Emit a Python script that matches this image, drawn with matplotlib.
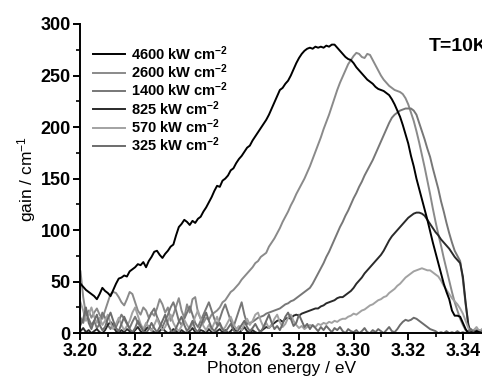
import matplotlib
matplotlib.use("Agg")
import matplotlib.pyplot as plt
import numpy as np
from matplotlib.ticker import MultipleLocator

plt.rcParams["font.family"] = ["Liberation Sans", "DejaVu Sans"]
plt.rcParams["mathtext.default"] = "regular"

# photon energy grid, 3.200 ... 3.347 eV in 1 meV steps
energy = np.linspace(3.200, 3.347, 148)

labels = ["4600 kW cm$^{-2}$", "2600 kW cm$^{-2}$", "1400 kW cm$^{-2}$",
          "825 kW cm$^{-2}$", "570 kW cm$^{-2}$", "325 kW cm$^{-2}$"]
colors = ["#000000", "#8a8a8a", "#777777", "#2a2a2a", "#a2a2a2", "#6c6c6c"]

gain_4600 = [
    48, 45, 42, 40, 38, 36, 33, 38, 44, 41,
    39, 36, 42, 48, 53, 54, 56, 55, 60, 62,
    64, 67, 66, 69, 64, 70, 74, 79, 80, 76,
    73, 77, 80, 84, 86, 95, 103, 106, 110, 108,
    105, 109, 107, 111, 113, 118, 122, 127, 132, 138,
    143, 142, 148, 150, 153, 158, 160, 165, 169, 172,
    176, 180, 182, 187, 191, 195, 199, 203, 207, 212,
    218, 224, 230, 236, 238, 242, 245, 250, 256, 262,
    267, 271, 274, 276, 277, 276, 278, 277, 278, 277,
    279, 278, 280, 280, 277, 274, 271, 268, 266, 265,
    262, 258, 255, 252, 249, 246, 244, 242, 239, 237,
    236, 235, 233, 231, 227, 222, 216, 210, 202, 193,
    184, 172, 162, 150, 140, 130, 120, 110, 99, 88,
    78, 68, 58, 48, 40, 33, 22, 17, 17, 16,
    10, 4, 0, 1, 0, 2, 1, 0]

gain_2600 = [
    60, 35, 18, 22, 15, 20, 24, 18, 14, 22,
    30, 38, 40, 39, 35, 30, 27, 33, 40, 38,
    30, 22, 18, 25, 22, 15, 20, 17, 24, 33,
    28, 20, 25, 12, 18, 26, 34, 22, 15, 28,
    20, 33, 35, 20, 14, 10, 15, 13, 18, 20,
    22, 25, 30, 32, 36, 40, 42, 45, 48, 52,
    55, 58, 61, 64, 68, 70, 74, 76, 78, 84,
    88, 92, 97, 102, 108, 113, 118, 124, 129, 135,
    140, 145, 150, 156, 162, 169, 176, 183, 190, 198,
    205, 212, 220, 228, 236, 243, 249, 255, 261, 265,
    269, 272, 271, 268, 267, 271, 270, 265, 260, 255,
    250, 246, 243, 240, 238, 236, 235, 234, 232, 228,
    222, 214, 206, 196, 185, 173, 161, 148, 135, 121,
    108, 96, 85, 73, 62, 51, 40, 30, 22, 14,
    8, 3, 0, 0, 2, 1, 3, 1]

gain_1400 = [
    15, 10, 20, 14, 8, 12, 5, 9, 20, 15,
    8, 4, 10, 6, 12, 18, 14, 9, 5, 11,
    16, 10, 6, 3, 8, 14, 20, 24, 16, 10,
    6, 12, 18, 25, 30, 22, 12, 8, 14, 20,
    26, 18, 10, 6, 12, 18, 24, 30, 22, 14,
    8, 14, 22, 28, 20, 12, 6, 14, 22, 30,
    18, 9, 10, 11, 13, 15, 16, 17, 19, 20,
    21, 22, 23, 24, 26, 28, 29, 31, 32, 34,
    36, 38, 40, 42, 44, 48, 53, 58, 63, 68,
    74, 79, 85, 91, 97, 103, 108, 114, 119, 125,
    131, 136, 142, 147, 153, 158, 163, 168, 174, 180,
    186, 192, 198, 204, 209, 212, 214, 216, 217, 218,
    218, 218, 216, 212, 204, 196, 188, 179, 171, 160,
    150, 140, 128, 118, 107, 97, 88, 80, 75, 70,
    52, 28, 8, 0, 2, 0, 1, 0]

gain_825 = [
    2, 5, 1, 3, 0, 2, 4, 1, 0, 3,
    8, 11, 6, 2, 0, 3, 1, 4, 2, 0,
    3, 6, 2, 0, 4, 7, 3, 1, 0, 2,
    5, 2, 0, 1, 4, 2, 0, 3, 1, 0,
    2, 5, 1, 0, 3, 2, 0, 4, 1, 0,
    2, 4, 1, 3, 0, 2, 5, 2, 0, 3,
    6, 2, 0, 3, 1, 0, 2, 4, 6, 5,
    8, 10, 12, 13, 11, 14, 15, 14, 17, 18,
    17, 19, 20, 21, 22, 23, 24, 24, 26, 27,
    29, 30, 31, 32, 34, 35, 35, 37, 39, 41,
    44, 48, 51, 54, 58, 61, 64, 67, 70, 73,
    76, 80, 85, 90, 94, 97, 100, 103, 106, 109,
    112, 114, 116, 117, 117, 116, 114, 110, 106, 102,
    98, 95, 91, 88, 85, 82, 78, 74, 71, 68,
    55, 30, 8, 0, 3, 1, 0, 2]

gain_570 = [
    30, 22, 12, 18, 25, 16, 10, 15, 8, 12,
    18, 10, 4, 9, 15, 8, 3, 7, 12, 20,
    25, 17, 9, 4, 10, 6, 2, 8, 14, 8,
    3, 6, 12, 18, 10, 5, 2, 7, 13, 8,
    4, 9, 16, 22, 14, 7, 3, 8, 4, 10,
    16, 8, 3, 6, 11, 16, 9, 4, 7, 3,
    9, 14, 8, 12, 18, 20, 12, 6, 10, 5,
    8, 14, 18, 11, 6, 9, 15, 18, 12, 8,
    5, 7, 4, 6, 8, 7, 6, 9, 8, 10,
    9, 11, 10, 12, 11, 13, 14, 14, 16, 17,
    19, 18, 20, 22, 23, 25, 27, 28, 30, 32,
    33, 35, 36, 39, 41, 43, 46, 48, 51, 54,
    56, 58, 60, 61, 62, 63, 62, 61, 61, 59,
    57, 55, 51, 46, 42, 38, 34, 31, 28, 24,
    19, 12, 5, 0, 3, 6, 2, 4]

gain_325 = [
    8, 14, 25, 10, 4, 12, 18, 8, 3, 6,
    14, 20, 12, 5, 2, 9, 16, 10, 4, 1,
    5, 12, 7, 2, 0, 4, 10, 5, 1, 6,
    12, 18, 9, 3, 0, 5, 11, 16, 8, 2,
    6, 12, 4, 1, 7, 14, 20, 12, 5, 2,
    6, 10, 4, 1, 5, 9, 3, 0, 4, 8,
    12, 6, 2, 5, 9, 4, 1, 6, 12, 18,
    10, 4, 7, 3, 9, 16, 20, 14, 7, 10,
    18, 12, 6, 9, 4, 8, 5, 2, 6, 3,
    7, 4, 1, 5, 3, 6, 2, 0, 4, 2,
    1, 3, 0, 2, 5, 1, 0, 3, 1, 4,
    2, 0, 3, 6, 2, 1, 4, 8, 11, 13,
    12, 13, 15, 14, 12, 10, 8, 6, 4, 3,
    2, 0, 1, 0, 2, 0, 1, 0, 2, 0,
    1, 0, 2, 4, 1, 3, 0, 2]

series = [gain_4600, gain_2600, gain_1400, gain_825, gain_570, gain_325]

fig = plt.figure(figsize=(4.82, 3.87), dpi=100)
ax = fig.add_axes([0.167, 0.139, 0.833, 0.799])

lines = []
for vals, lab, col in zip(series, labels, colors):
    ln, = ax.plot(energy, vals, color=col, lw=1.4, label=lab)
    lines.append(ln)
# draw the strongest pump curve on top
lines[0].set_zorder(3)

ax.set_xlim(3.200, 3.347)
ax.set_ylim(0, 300)
ax.xaxis.set_major_locator(MultipleLocator(0.02))
ax.xaxis.set_minor_locator(MultipleLocator(0.01))
ax.yaxis.set_major_locator(MultipleLocator(50))
ax.yaxis.set_minor_locator(MultipleLocator(25))
ax.xaxis.set_major_formatter(plt.FormatStrFormatter("%.2f"))

for side in ("top", "right"):
    ax.spines[side].set_visible(False)
for side in ("left", "bottom"):
    ax.spines[side].set_linewidth(1.4)
ax.tick_params(which="major", direction="out", length=5, width=1.4,
               labelsize=13, pad=2)
ax.tick_params(which="minor", direction="out", length=3, width=1.2)
for t in ax.get_xticklabels() + ax.get_yticklabels():
    t.set_fontweight("bold")

ax.set_xlabel("Photon energy / eV", fontsize=12.5, labelpad=1)
ax.set_ylabel("gain / cm$^{-1}$", fontsize=12.5, labelpad=2)

# temperature note runs off the right edge of the frame
ax.text(3.3275, 278, "T=10K", fontsize=14, fontweight="bold",
        ha="left", va="center", clip_on=False)

ax.legend(loc="upper left", bbox_to_anchor=(93 / 482, 1 - 44 / 387),
          bbox_transform=fig.transFigure, frameon=False, borderpad=0,
          borderaxespad=0, handlelength=2.2, handletextpad=0.4,
          labelspacing=-0.02, prop={"size": 10.5, "weight": "bold"})

fig.savefig("out.png", dpi=100)
